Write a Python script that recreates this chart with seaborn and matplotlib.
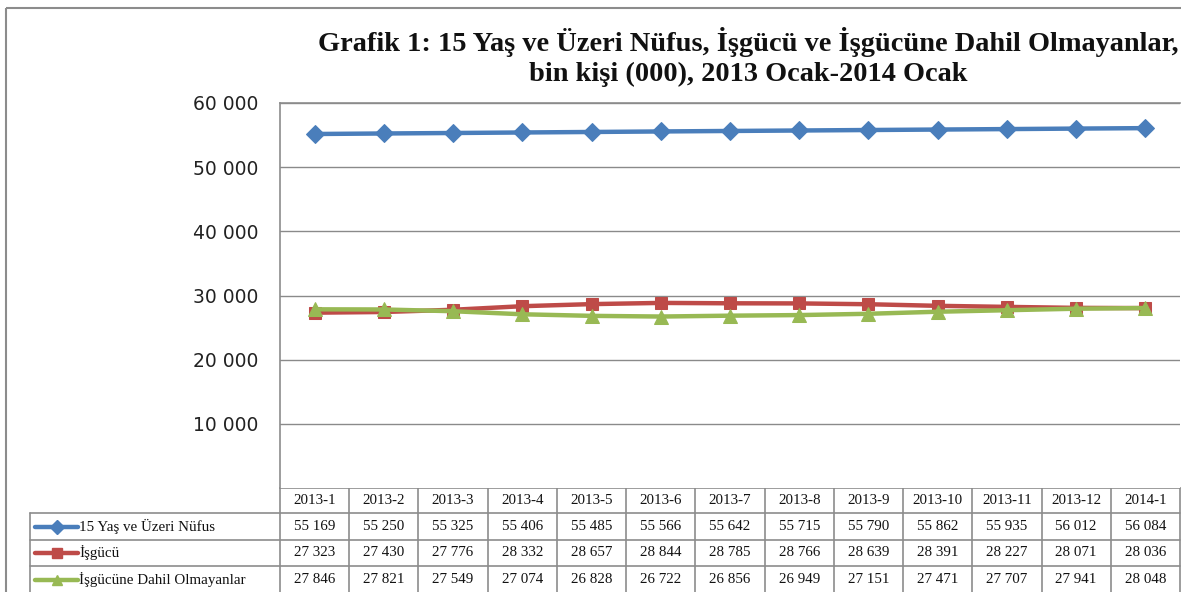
import matplotlib
matplotlib.use("Agg")
import matplotlib.pyplot as plt
import seaborn as sns
import pandas as pd
from matplotlib.lines import Line2D
from matplotlib.patches import Rectangle

months = ["2013-1", "2013-2", "2013-3", "2013-4", "2013-5", "2013-6", "2013-7",
          "2013-8", "2013-9", "2013-10", "2013-11", "2013-12", "2014-1"]
nufus = [55169, 55250, 55325, 55406, 55485, 55566, 55642, 55715, 55790, 55862, 55935, 56012, 56084]
isgucu = [27323, 27430, 27776, 28332, 28657, 28844, 28785, 28766, 28639, 28391, 28227, 28071, 28036]
dahil_degil = [27846, 27821, 27549, 27074, 26828, 26722, 26856, 26949, 27151, 27471, 27707, 27941, 28048]

series_names = ["15 Yaş ve Üzeri Nüfus", "İşgücü", "İşgücüne Dahil Olmayanlar"]
series_vals = [nufus, isgucu, dahil_degil]
colors = ["#4A7EBB", "#BE4B48", "#98B954"]
markers = ["D", "s", "^"]
msizes = [9, 9, 10]

ytick_vals = [10000, 20000, 30000, 40000, 50000, 60000]

title = ("Grafik 1: 15 Yaş ve Üzeri Nüfus, İşgücü ve İşgücüne Dahil Olmayanlar,\n"
         "bin kişi (000), 2013 Ocak-2014 Ocak")

sns.set_style("white")
plt.rcParams["font.family"] = ["DejaVu Sans"]

W, H = 1181, 592
fig = plt.figure(figsize=(W / 100, H / 100), dpi=100)

# overlay in pixel coordinates for frame / title / table
ov = fig.add_axes([0, 0, 1, 1])
ov.set_xlim(0, W)
ov.set_ylim(H, 0)
ov.axis("off")

gray = "#8C8C8C"
ov.add_patch(Rectangle((6, 8), W + 20, H + 20, fill=False, ec=gray, lw=1.5))

ov.text(748, 57, title, ha="center", va="center", fontsize=20.4, fontweight="bold",
        family=["Liberation Serif"], linespacing=1.24, color="#111111")

# main plot area
left, right, top, bottom = 280, 1180, 103, 488
ax = fig.add_axes([left / W, (H - bottom) / H, (right - left) / W, (bottom - top) / H])

df = pd.DataFrame({
    "ay": months * 3,
    "x": list(range(len(months))) * 3,
    "deger": nufus + isgucu + dahil_degil,
    "seri": [s for s in series_names for _ in months],
})

for name, c, m, ms in zip(series_names, colors, markers, msizes):
    sub = df[df["seri"] == name]
    sns.lineplot(data=sub, x="x", y="deger", ax=ax, color=c, lw=3.2,
                 marker=m, markersize=ms, markeredgecolor=c, legend=False)

ax.set_xlim(-0.5, len(months) - 0.5)
ax.set_ylim(0, 60000)
ax.set_yticks(ytick_vals)
ax.set_yticklabels([f"{v:,}".replace(",", " ") for v in ytick_vals], fontsize=13.5, color="#222222")
ax.set_xticks([])
ax.set_xlabel("")
ax.set_ylabel("")
ax.tick_params(axis="y", length=0, pad=15.5)
ax.yaxis.grid(True, color="#8A8A8A", lw=1)
for s in ["left", "top"]:
    ax.spines[s].set_color(gray)
    ax.spines[s].set_linewidth(1.2)
ax.spines["right"].set_visible(False)
ax.spines["bottom"].set_visible(False)

# data table under the plot
row_y = [488, 513, 540, 566, 593]
col_w = (right - left) / len(months)
lab_x = 30
tfont = dict(family=["Liberation Serif"], fontsize=10.8, color="#111111")

# horizontal lines
ov.plot([left, right], [row_y[0], row_y[0]], color=gray, lw=1.2)
for yy in row_y[1:]:
    ov.plot([lab_x, right], [yy, yy], color=gray, lw=1.2)
# vertical lines
ov.plot([lab_x, lab_x], [row_y[1], H + 5], color=gray, lw=1.2)
for i in range(len(months) + 1):
    xx = left + i * col_w
    ov.plot([xx, xx], [row_y[0], H + 5], color=gray, lw=1.2)

for i, mth in enumerate(months):
    cx = left + (i + 0.5) * col_w
    ov.text(cx, (row_y[0] + row_y[1]) / 2, mth, ha="center", va="center", **tfont)

for r, (name, vals, c, m, ms) in enumerate(zip(series_names, series_vals, colors, markers, msizes)):
    cy = (row_y[r + 1] + row_y[r + 2]) / 2
    ov.add_line(Line2D([35, 78], [cy, cy], color=c, lw=3.2))
    ov.add_line(Line2D([56.5], [cy], marker=m, markersize=ms * 0.75, color=c))
    ov.text(79, cy, name, ha="left", va="center", **tfont)
    for i, v in enumerate(vals):
        cx = left + (i + 0.5) * col_w
        ov.text(cx, cy, f"{v:,}".replace(",", " "), ha="center", va="center", **tfont)

fig.savefig("out.png", dpi=100)
